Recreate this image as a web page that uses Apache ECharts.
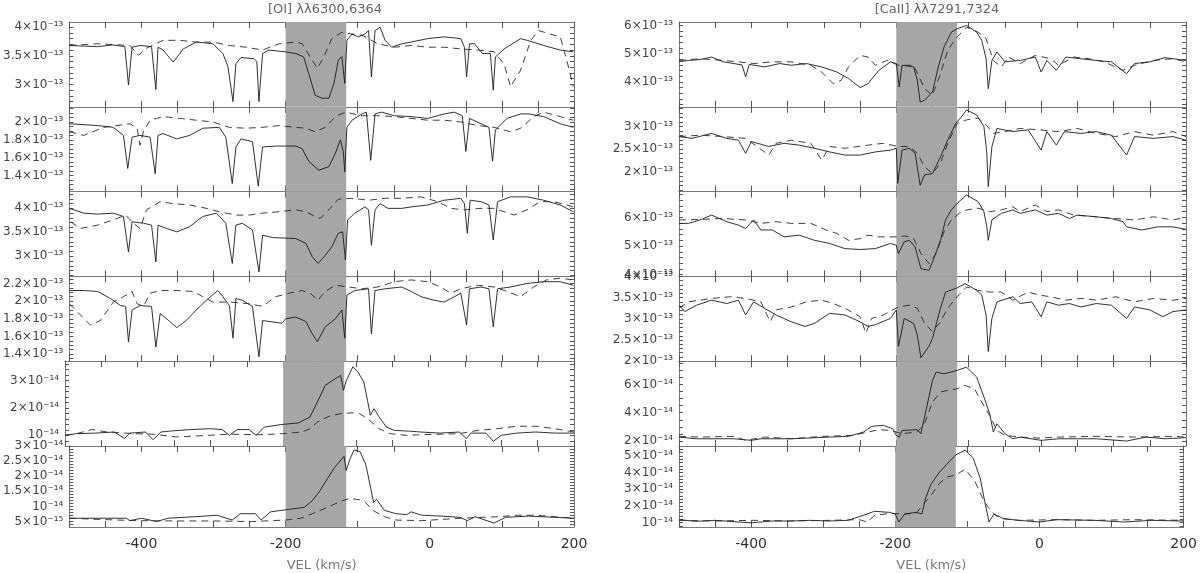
<!DOCTYPE html>
<html><head><meta charset="utf-8">
<script src="https://cdn.jsdelivr.net/npm/echarts@6/dist/echarts.min.js"></script>
<style>html,body{margin:0;padding:0;background:#fff}#c{width:1200px;height:573px}</style>
</head><body><div id="c"></div><script>
// ---------------- data ----------------
const velMin = -500, velMax = 200;
const shadeBand = [-200, -116];
const velTickLabels = [-400, -200, 0, 200];
const columnTitles = ['[OI] \u03bb\u03bb6300,6364', '[CaII] \u03bb\u03bb7291,7324'];
const axisName = 'VEL (km/s)';

// [OI] column (flux units: panels 1-4 in 1e-13, panels 5-6 in 1e-14)
const oi1Solid = [[-500,3.68],[-461,3.66],[-440,3.69],[-423,3.66],[-418,2.99],[-413,3.65],[-402,3.68],[-386,3.66],[-380,2.91],[-377,3.65],[-370,3.60],[-356,3.39],[-342,3.62],[-324,3.74],[-301,3.71],[-287,3.54],[-280,3.31],[-273,2.70],[-269,3.36],[-262,3.47],[-244,3.45],[-240,3.40],[-237,2.70],[-232,3.54],[-223,3.60],[-201,3.57],[-186,3.54],[-175,3.48],[-168,3.19],[-159,2.81],[-150,2.76],[-140,2.76],[-133,3.02],[-127,3.42],[-122,3.49],[-118,3.02],[-115,3.77],[-108,3.88],[-99,3.83],[-90,3.88],[-85,3.94],[-81,3.13],[-76,3.94],[-69,4.0],[-62,3.77],[-53,3.65],[-39,3.71],[-26,3.74],[-3,3.80],[20,3.83],[43,3.80],[48,3.65],[51,3.13],[55,3.71],[62,3.71],[73,3.54],[84,3.54],[88,2.90],[91,3.48],[103,3.62],[126,3.80],[135,3.77],[158,3.68],[181,3.60],[199,3.57]];
const oi1Dashed = [[-500,3.68],[-461,3.71],[-416,3.68],[-404,3.51],[-395,3.62],[-370,3.77],[-347,3.77],[-324,3.74],[-301,3.74],[-278,3.68],[-255,3.65],[-232,3.60],[-209,3.71],[-186,3.74],[-177,3.71],[-166,3.48],[-156,3.28],[-147,3.48],[-136,3.80],[-122,3.91],[-108,3.88],[-94,3.86],[-72,3.71],[-49,3.65],[-26,3.68],[-3,3.65],[20,3.65],[43,3.62],[66,3.60],[89,3.57],[103,3.36],[112,2.96],[126,3.25],[140,3.77],[151,3.94],[167,3.88],[181,3.83],[190,3.42],[199,2.96]];
const oi2Solid = [[-500,1.98],[-461,1.96],[-439,1.94],[-425,1.85],[-419,1.48],[-413,1.83],[-402,1.85],[-388,1.83],[-381,1.42],[-377,1.85],[-370,1.87],[-351,1.81],[-333,1.85],[-315,1.93],[-292,1.94],[-283,1.83],[-274,1.31],[-269,1.72],[-262,1.81],[-246,1.78],[-238,1.28],[-232,1.72],[-214,1.73],[-186,1.73],[-177,1.70],[-168,1.56],[-154,1.46],[-140,1.50],[-131,1.65],[-124,1.80],[-120,1.67],[-118,1.44],[-115,1.94],[-108,2.02],[-94,2.09],[-88,2.11],[-82,1.57],[-76,2.09],[-67,2.11],[-49,2.07],[-26,2.06],[-3,2.04],[20,2.09],[34,2.11],[45,2.07],[50,1.67],[55,2.04],[71,1.98],[82,1.94],[87,1.56],[91,1.91],[107,2.04],[126,2.09],[137,2.09],[158,2.06],[181,1.98],[199,1.94]];
const oi2Dashed = [[-500,1.89],[-480,1.85],[-452,1.94],[-434,1.96],[-416,1.98],[-406,1.93],[-402,1.74],[-397,1.90],[-388,2.02],[-370,2.06],[-347,2.04],[-324,2.02],[-301,2.0],[-278,1.94],[-255,1.93],[-232,1.94],[-209,1.96],[-186,1.94],[-172,1.93],[-159,1.89],[-145,1.94],[-131,2.06],[-117,2.11],[-94,2.07],[-72,2.07],[-49,2.06],[-26,2.04],[-3,2.02],[20,2.02],[43,2.0],[66,1.96],[89,1.94],[112,1.89],[126,1.93],[144,2.06],[158,2.11],[181,2.06],[199,2.02]];
const oi3Solid = [[-500,4.0],[-480,3.90],[-461,3.88],[-439,3.90],[-425,3.83],[-418,3.09],[-413,3.72],[-397,3.69],[-386,3.65],[-380,2.88],[-377,3.65],[-365,3.58],[-351,3.51],[-333,3.62],[-315,3.83],[-296,3.90],[-283,3.69],[-274,2.85],[-269,3.65],[-260,3.69],[-246,3.55],[-237,2.67],[-232,3.44],[-218,3.39],[-186,3.37],[-172,3.27],[-163,2.99],[-155,2.85],[-145,3.02],[-136,3.20],[-127,3.48],[-121,3.51],[-117,2.92],[-114,3.76],[-104,3.90],[-90,4.03],[-85,3.97],[-81,3.23],[-76,3.97],[-69,4.10],[-58,4.0],[-39,4.0],[-26,4.03],[-3,4.07],[20,4.17],[43,4.21],[48,4.10],[52,3.48],[56,4.17],[71,4.14],[82,4.07],[88,3.34],[94,4.14],[112,4.24],[135,4.24],[158,4.17],[181,4.07],[199,3.93]];
const oi3Dashed = [[-498,3.72],[-485,3.58],[-461,3.65],[-439,3.76],[-422,3.86],[-411,3.69],[-402,3.58],[-393,3.97],[-374,4.14],[-356,4.10],[-333,4.07],[-310,4.0],[-292,3.93],[-269,3.86],[-250,3.86],[-232,3.90],[-209,3.93],[-186,3.97],[-172,3.93],[-159,3.83],[-152,3.79],[-140,3.97],[-127,4.19],[-108,4.21],[-85,4.17],[-62,4.21],[-39,4.21],[-12,4.24],[11,4.14],[29,4.0],[48,3.97],[71,4.0],[89,4.0],[103,3.93],[117,3.86],[135,3.97],[153,4.14],[172,4.14],[190,4.07],[199,4.03]];
const oi4Solid = [[-500,2.12],[-480,2.12],[-461,2.11],[-443,2.03],[-429,1.95],[-422,1.94],[-418,1.54],[-413,1.90],[-402,1.95],[-386,1.94],[-380,1.48],[-374,1.86],[-365,1.80],[-351,1.70],[-338,1.78],[-324,1.90],[-310,2.01],[-294,2.12],[-287,2.05],[-278,1.95],[-273,1.58],[-269,2.03],[-260,2.01],[-246,1.94],[-237,1.37],[-232,1.78],[-223,1.77],[-205,1.75],[-200,1.80],[-186,1.82],[-172,1.77],[-163,1.63],[-156,1.54],[-145,1.71],[-131,1.80],[-122,1.90],[-118,1.58],[-115,2.07],[-104,2.12],[-85,2.14],[-81,1.63],[-76,2.12],[-62,2.14],[-39,2.16],[-26,2.11],[-12,2.05],[6,2.01],[20,1.99],[34,2.05],[43,2.09],[51,1.73],[55,2.14],[71,2.16],[82,2.14],[88,1.71],[94,2.14],[112,2.16],[135,2.2],[158,2.22],[181,2.22],[199,2.18]];
const oi4Dashed = [[-500,1.97],[-489,1.88],[-471,1.73],[-457,1.78],[-439,1.99],[-425,2.05],[-413,2.11],[-406,1.97],[-397,1.94],[-388,2.09],[-374,2.12],[-351,2.12],[-328,2.11],[-315,2.05],[-301,1.99],[-278,1.99],[-250,1.97],[-232,1.94],[-214,2.05],[-195,2.09],[-177,2.12],[-166,2.09],[-155,2.01],[-145,2.11],[-131,2.18],[-113,2.16],[-94,2.14],[-72,2.16],[-49,2.22],[-26,2.24],[-3,2.22],[15,2.16],[29,2.09],[43,2.14],[66,2.18],[89,2.16],[107,2.11],[126,2.05],[144,2.16],[162,2.24],[181,2.26],[199,2.24]];
const oi5Solid = [[-500,1.0],[-484,1.06],[-458,1.08],[-432,1.12],[-418,0.88],[-411,1.08],[-389,1.12],[-379,0.84],[-368,1.12],[-353,1.16],[-326,1.21],[-300,1.24],[-284,1.21],[-274,1.0],[-263,1.21],[-247,1.21],[-237,1.0],[-226,1.30],[-200,1.40],[-179,1.45],[-163,1.67],[-153,2.21],[-142,2.82],[-132,3.0],[-121,3.18],[-117,2.64],[-113,3.0],[-104,3.5],[-97,3.30],[-89,2.94],[-84,2.27],[-80,1.73],[-75,1.97],[-68,1.67],[-58,1.30],[-47,1.18],[-26,1.15],[-11,1.12],[16,1.08],[42,1.12],[52,0.88],[58,1.08],[79,1.08],[89,0.78],[100,1.0],[121,1.08],[147,1.12],[174,1.08],[200,1.08]];
const oi5Dashed = [[-500,1.0],[-484,1.06],[-463,1.21],[-442,1.12],[-405,1.06],[-379,1.04],[-347,0.94],[-316,0.98],[-274,1.04],[-232,1.02],[-200,1.06],[-174,1.12],[-163,1.24],[-153,1.48],[-137,1.69],[-121,1.79],[-105,1.82],[-95,1.79],[-84,1.61],[-68,1.24],[-53,1.06],[-32,1.0],[-11,1.02],[16,1.04],[42,1.06],[68,1.18],[95,1.24],[121,1.33],[147,1.33],[174,1.24],[200,1.12]];
const oi6Solid = [[-500,0.61],[-458,0.61],[-421,0.61],[-416,0.53],[-400,0.61],[-379,0.50],[-363,0.61],[-326,0.66],[-295,0.71],[-274,0.55],[-263,0.76],[-242,0.76],[-234,0.55],[-221,0.82],[-200,0.89],[-174,0.97],[-163,1.19],[-153,1.50],[-142,1.92],[-132,2.29],[-119,2.66],[-116,2.19],[-111,2.56],[-105,2.87],[-97,2.82],[-89,2.40],[-82,1.61],[-78,1.13],[-74,1.24],[-63,0.87],[-47,0.76],[-32,0.73],[-26,0.82],[-11,0.71],[16,0.68],[42,0.64],[52,0.53],[63,0.66],[89,0.45],[105,0.64],[137,0.68],[174,0.64],[200,0.61]];
const oi6Dashed = [[-500,0.61],[-458,0.57],[-405,0.53],[-353,0.52],[-300,0.52],[-247,0.50],[-200,0.55],[-179,0.61],[-163,0.76],[-147,0.92],[-132,1.08],[-121,1.19],[-111,1.27],[-97,1.22],[-89,1.13],[-79,0.87],[-63,0.66],[-47,0.55],[-11,0.53],[42,0.61],[95,0.66],[121,0.71],[147,0.71],[174,0.66],[200,0.61]];

// [CaII] column
const ca1Solid = [[-500,4.71],[-487,4.76],[-471,4.79],[-455,4.88],[-439,4.71],[-424,4.65],[-413,4.60],[-408,4.18],[-403,4.62],[-382,4.53],[-361,4.65],[-345,4.59],[-324,4.65],[-303,4.53],[-282,4.35],[-266,4.12],[-250,3.80],[-239,3.94],[-224,4.41],[-208,4.71],[-200,4.65],[-196,3.82],[-192,4.59],[-176,4.53],[-171,4.06],[-167,3.29],[-161,3.35],[-150,3.65],[-142,4.53],[-134,5.24],[-124,5.76],[-116,5.88],[-103,6.0],[-89,5.76],[-82,5.47],[-76,4.82],[-73,3.76],[-68,4.76],[-61,5.06],[-50,4.71],[-29,4.76],[-8,4.88],[0,4.35],[8,4.76],[21,4.41],[34,4.88],[55,4.82],[76,4.76],[97,4.71],[118,4.29],[129,4.65],[150,4.71],[171,4.86],[200,4.76]];
const ca1Dashed = [[-500,4.76],[-471,4.82],[-439,4.76],[-418,4.71],[-397,4.65],[-371,4.71],[-345,4.71],[-318,4.59],[-303,4.35],[-287,3.94],[-276,4.06],[-266,4.53],[-250,4.94],[-239,4.88],[-229,4.59],[-213,4.76],[-197,4.59],[-176,4.59],[-161,3.76],[-150,3.53],[-139,4.29],[-129,5.12],[-118,5.53],[-103,5.94],[-87,5.76],[-76,5.53],[-66,4.76],[-55,4.53],[-45,4.88],[-29,4.65],[-8,4.94],[13,4.82],[24,4.59],[45,4.88],[66,4.82],[87,4.71],[113,4.41],[129,4.59],[155,4.76],[182,4.82],[200,4.71]];
const ca2Solid = [[-500,2.78],[-482,2.74],[-455,2.85],[-434,2.74],[-418,2.70],[-408,2.41],[-400,2.67],[-376,2.56],[-355,2.63],[-334,2.59],[-313,2.52],[-292,2.44],[-271,2.37],[-250,2.37],[-229,2.44],[-208,2.48],[-200,2.52],[-198,1.74],[-192,2.48],[-182,2.52],[-174,2.41],[-167,1.70],[-161,1.93],[-150,1.96],[-139,2.33],[-129,2.70],[-118,3.07],[-108,3.26],[-103,3.37],[-89,3.26],[-79,3.0],[-75,2.41],[-73,1.67],[-68,2.56],[-61,2.96],[-39,2.89],[-18,2.93],[0,2.48],[8,2.89],[21,2.59],[32,2.89],[55,2.85],[76,2.89],[97,2.81],[118,2.37],[129,2.78],[155,2.74],[182,2.78],[200,2.70]];
const ca2Dashed = [[-500,2.78],[-471,2.81],[-439,2.78],[-408,2.74],[-376,2.37],[-366,2.63],[-345,2.70],[-318,2.63],[-303,2.26],[-292,2.56],[-271,2.52],[-239,2.59],[-218,2.63],[-197,2.56],[-182,2.56],[-171,2.41],[-161,2.11],[-150,1.96],[-139,2.19],[-129,2.63],[-116,3.07],[-103,3.15],[-87,3.19],[-76,3.04],[-66,2.85],[-50,2.89],[-29,2.96],[-3,2.93],[24,2.89],[50,2.96],[76,2.85],[103,2.78],[129,2.89],[155,2.81],[182,2.89],[200,2.78]];
const ca3Solid = [[-500,5.79],[-487,5.79],[-471,5.91],[-455,6.08],[-434,5.85],[-418,5.73],[-408,5.61],[-397,5.91],[-387,5.56],[-371,5.56],[-355,5.32],[-334,5.38],[-313,5.20],[-292,5.09],[-271,4.91],[-250,4.88],[-229,4.91],[-208,5.09],[-200,5.03],[-197,4.74],[-189,5.15],[-182,5.20],[-174,4.97],[-166,4.21],[-155,4.15],[-150,4.44],[-139,5.20],[-132,5.91],[-124,6.26],[-116,6.49],[-103,6.78],[-87,6.55],[-79,6.20],[-75,5.67],[-73,5.20],[-68,5.91],[-55,6.14],[-39,6.26],[-29,6.14],[-8,6.26],[8,6.08],[24,6.14],[39,5.96],[50,6.08],[76,6.02],[97,5.96],[113,5.85],[118,5.67],[139,5.56],[161,5.67],[182,5.67],[200,5.58]];
const ca3Dashed = [[-500,5.91],[-471,5.93],[-439,5.96],[-408,5.91],[-387,5.79],[-366,5.85],[-345,5.79],[-318,5.79],[-297,5.56],[-282,5.44],[-266,5.20],[-250,5.26],[-239,5.38],[-224,5.32],[-203,5.32],[-187,5.35],[-176,5.26],[-166,4.74],[-155,4.39],[-145,4.74],[-134,5.50],[-124,5.91],[-113,6.14],[-103,6.26],[-87,6.32],[-71,6.20],[-55,6.26],[-39,6.37],[-29,6.20],[-8,6.43],[8,6.20],[24,6.26],[45,6.08],[76,6.02],[103,5.96],[129,5.91],[155,6.02],[182,5.91],[200,6.0]];
const ca4Solid = [[-500,3.32],[-492,3.17],[-476,3.32],[-455,3.44],[-434,3.36],[-418,3.44],[-408,3.09],[-397,3.40],[-382,3.25],[-366,3.09],[-345,2.93],[-326,2.82],[-313,2.89],[-292,3.13],[-271,3.09],[-250,2.93],[-239,2.82],[-229,2.86],[-208,3.01],[-200,3.21],[-197,2.35],[-189,3.01],[-176,2.89],[-171,2.62],[-166,2.08],[-155,2.35],[-150,2.54],[-139,3.25],[-132,3.63],[-116,3.73],[-105,3.83],[-89,3.67],[-82,3.56],[-76,3.09],[-73,2.23],[-68,3.01],[-61,3.40],[-39,3.52],[-29,3.36],[-13,3.40],[0,3.05],[8,3.40],[24,3.32],[39,3.36],[55,3.28],[76,3.36],[97,3.32],[118,3.01],[129,3.28],[150,3.21],[168,3.05],[182,3.17],[200,3.21]];
const ca4Dashed = [[-500,3.25],[-487,3.40],[-455,3.48],[-429,3.52],[-408,3.48],[-387,3.40],[-374,2.93],[-366,3.21],[-345,3.28],[-324,3.40],[-303,3.44],[-287,3.36],[-271,3.25],[-250,3.05],[-242,2.66],[-234,3.01],[-218,3.09],[-197,3.28],[-182,3.32],[-171,3.25],[-161,2.89],[-150,2.70],[-139,2.93],[-129,3.25],[-116,3.52],[-103,3.75],[-87,3.67],[-71,3.63],[-55,3.63],[-39,3.44],[-18,3.63],[-3,3.56],[13,3.52],[34,3.44],[55,3.48],[76,3.44],[103,3.52],[129,3.40],[155,3.48],[182,3.44],[200,3.48]];
const ca5Solid = [[-500,2.28],[-476,2.16],[-450,2.16],[-424,2.16],[-400,2.05],[-387,2.16],[-345,2.16],[-292,2.28],[-266,2.33],[-245,2.64],[-234,3.04],[-218,3.11],[-205,2.87],[-200,2.40],[-196,2.28],[-192,2.75],[-171,2.80],[-166,2.52],[-158,4.40],[-150,6.28],[-145,6.87],[-134,6.75],[-116,6.99],[-103,7.22],[-89,6.52],[-79,5.11],[-71,3.93],[-66,2.64],[-61,3.22],[-50,2.52],[-39,2.16],[-29,2.28],[0,2.05],[24,2.16],[50,2.16],[76,2.16],[118,2.0],[145,2.28],[171,2.16],[200,2.24]];
const ca5Dashed = [[-500,2.33],[-471,2.28],[-424,2.33],[-408,2.05],[-382,2.28],[-345,2.16],[-303,2.33],[-260,2.40],[-239,2.64],[-224,2.80],[-208,2.75],[-192,2.52],[-171,2.64],[-161,3.22],[-150,4.75],[-139,5.46],[-129,5.58],[-116,5.69],[-105,5.93],[-92,5.69],[-82,4.75],[-71,3.81],[-61,2.75],[-50,2.40],[-29,2.28],[-3,2.21],[24,2.28],[76,2.33],[129,2.28],[182,2.33],[200,2.28]];
const ca6Solid = [[-500,1.17],[-476,1.07],[-450,1.13],[-400,0.98],[-371,1.09],[-345,1.09],[-318,1.13],[-292,1.09],[-266,1.13],[-245,1.42],[-229,1.67],[-208,1.61],[-200,1.51],[-195,1.03],[-187,1.51],[-171,1.61],[-163,1.51],[-158,2.47],[-150,3.33],[-139,4.0],[-129,4.48],[-116,5.06],[-103,5.34],[-92,4.87],[-82,3.62],[-76,2.28],[-70,1.03],[-63,1.51],[-50,1.23],[-29,1.13],[0,1.03],[24,1.17],[76,1.13],[118,1.03],[155,1.13],[200,1.09]];
const ca6Dashed = [[-500,1.13],[-450,1.09],[-397,1.13],[-345,1.09],[-292,1.13],[-250,1.17],[-239,1.03],[-229,1.42],[-208,1.55],[-187,1.51],[-171,1.55],[-161,2.09],[-150,2.66],[-139,3.33],[-129,3.72],[-116,3.85],[-103,4.20],[-89,3.43],[-79,2.47],[-71,1.90],[-61,1.42],[-50,1.23],[-29,1.13],[24,1.17],[76,1.13],[129,1.17],[200,1.13]];

// y ranges, tick values and tick labels
const oiRanges = [[2.61,4.09],[1.22,2.17],[2.58,4.35],[1.32,2.28],[0.61,3.70],[0.32,3.0]];
const oiTicks = [[3,3.5,4],[1.4,1.6,1.8,2],[3,3.5,4],[1.4,1.6,1.8,2,2.2],[1,2,3],[0.5,1,1.5,2,2.5,3]];
const oiLabels = [
  ['3\u00d710\u207b\u00b9\u00b3','3.5\u00d710\u207b\u00b9\u00b3','4\u00d710\u207b\u00b9\u00b3'],
  ['1.4\u00d710\u207b\u00b9\u00b3','1.6\u00d710\u207b\u00b9\u00b3','1.8\u00d710\u207b\u00b9\u00b3','2\u00d710\u207b\u00b9\u00b3'],
  ['3\u00d710\u207b\u00b9\u00b3','3.5\u00d710\u207b\u00b9\u00b3','4\u00d710\u207b\u00b9\u00b3'],
  ['1.4\u00d710\u207b\u00b9\u00b3','1.6\u00d710\u207b\u00b9\u00b3','1.8\u00d710\u207b\u00b9\u00b3','2\u00d710\u207b\u00b9\u00b3','2.2\u00d710\u207b\u00b9\u00b3'],
  ['10\u207b\u00b9\u2074','2\u00d710\u207b\u00b9\u2074','3\u00d710\u207b\u00b9\u2074'],
  ['5\u00d710\u207b\u00b9\u2075','10\u207b\u00b9\u2074','1.5\u00d710\u207b\u00b9\u2074','2\u00d710\u207b\u00b9\u2074','2.5\u00d710\u207b\u00b9\u2074','3\u00d710\u207b\u00b9\u2074']
];
const caRanges = [[3.12,6.12],[1.56,3.44],[3.94,6.9],[2.0,4.0],[1.65,7.64],[0.73,5.59]];
const caTicks = [[4,5,6],[2,2.5,3],[4,5,6],[2,2.5,3,3.5,4],[2,4,6],[1,2,3,4,5]];
const caLabels = [
  ['4\u00d710\u207b\u00b9\u00b3','5\u00d710\u207b\u00b9\u00b3','6\u00d710\u207b\u00b9\u00b3'],
  ['2\u00d710\u207b\u00b9\u00b3','2.5\u00d710\u207b\u00b9\u00b3','3\u00d710\u207b\u00b9\u00b3'],
  ['4\u00d710\u207b\u00b9\u00b3','5\u00d710\u207b\u00b9\u00b3','6\u00d710\u207b\u00b9\u00b3'],
  ['2\u00d710\u207b\u00b9\u00b3','2.5\u00d710\u207b\u00b9\u00b3','3\u00d710\u207b\u00b9\u00b3','3.5\u00d710\u207b\u00b9\u00b3','4\u00d710\u207b\u00b9\u00b3'],
  ['2\u00d710\u207b\u00b9\u2074','4\u00d710\u207b\u00b9\u2074','6\u00d710\u207b\u00b9\u2074'],
  ['10\u207b\u00b9\u2074','2\u00d710\u207b\u00b9\u2074','3\u00d710\u207b\u00b9\u2074','4\u00d710\u207b\u00b9\u2074','5\u00d710\u207b\u00b9\u2074']
];

// ---------------- layout / style ----------------
const oiSolids = [oi1Solid, oi2Solid, oi3Solid, oi4Solid, oi5Solid, oi6Solid];
const oiDasheds = [oi1Dashed, oi2Dashed, oi3Dashed, oi4Dashed, oi5Dashed, oi6Dashed];
const caSolids = [ca1Solid, ca2Solid, ca3Solid, ca4Solid, ca5Solid, ca6Solid];
const caDasheds = [ca1Dashed, ca2Dashed, ca3Dashed, ca4Dashed, ca5Dashed, ca6Dashed];
const minorSteps = [[0.1,0.05,0.1,0.05,0.2,0.1],[0.2,0.1,0.2,0.1,0.5,0.2]];
const velTickStep = 50;

const colLeft = [65, 679], colWidth = [509, 507];
const panelTop = 22, panelH = 84.8;
const frameColor = '#7a7a7a';
const fontFam = '"DejaVu Sans", "Liberation Sans", sans-serif';

function stepVals(r, step) {
  const out = [];
  const k0 = Math.ceil(r[0] / step - 1e-9), k1 = Math.floor(r[1] / step + 1e-9);
  for (let k = k0; k <= k1; k++) out.push(+(k * step).toFixed(4));
  return out;
}
function tickStyle() { return { color: '#555', width: 1 }; }
const velTicks = stepVals([velMin, velMax], velTickStep);

const grids = [], xAxes = [], yAxes = [], series = [];
[ [oiSolids, oiDasheds, oiRanges, oiTicks, oiLabels], [caSolids, caDasheds, caRanges, caTicks, caLabels] ].forEach((col, c) => {
  const [solids, dasheds, ranges, ticks, labels] = col;
  for (let r = 0; r < 6; r++) {
    const g = grids.length;
    grids.push({ left: colLeft[c], width: colWidth[c], top: panelTop + r * panelH, height: panelH });
    const bottom = r === 5;
    const xi = xAxes.length;
    ['bottom', 'top'].forEach(pos => xAxes.push({
      gridIndex: g, type: 'value', min: velMin, max: velMax, splitLine: { show: false },
      position: pos, axisLine: { show: true, onZero: false, lineStyle: { color: frameColor, width: 1 } },
      axisTick: { show: true, inside: true, length: 6, customValues: velTicks, lineStyle: tickStyle() },
      axisLabel: (bottom && pos === 'bottom') ? { show: true, customValues: velTickLabels, color: '#333', fontSize: 14, margin: 10, fontFamily: fontFam, formatter: v => String(v) } : { show: false },
      name: (bottom && pos === 'bottom') ? axisName : '', nameLocation: 'middle', nameGap: 32,
      nameTextStyle: { color: '#777', fontSize: 13, fontFamily: fontFam }
    }));

    const rg = ranges[r], tk = ticks[r], lb = labels[r];
    const allTicks = stepVals(rg, minorSteps[c][r]);
    const yi = yAxes.length;
    ['left', 'right'].forEach(pos => yAxes.push({
      gridIndex: g, type: 'value', min: rg[0], max: rg[1], splitLine: { show: false },
      position: pos, axisLine: { show: true, onZero: false, lineStyle: { color: frameColor, width: 1 } },
      axisTick: { show: true, inside: true, length: 4, customValues: allTicks, lineStyle: tickStyle() },
      axisLabel: pos === 'left' ? { show: true, customValues: tk, color: '#444', fontSize: 12, margin: 6, fontFamily: fontFam,
        formatter: v => { const i = tk.findIndex(t => Math.abs(t - v) < 1e-6); return i >= 0 ? lb[i] : ''; } } : { show: false }
    }));
    series.push({
      type: 'line', xAxisIndex: xi, yAxisIndex: yi, data: solids[r], showSymbol: false, silent: true,
      lineStyle: { color: '#1c1c1c', width: 0.9 }, z: 3,
      markArea: { silent: true, itemStyle: { color: '#a6a6a6' }, data: [[{ xAxis: shadeBand[0] }, { xAxis: shadeBand[1] }]] }
    });
    series.push({
      type: 'line', xAxisIndex: xi, yAxisIndex: yi, data: dasheds[r], showSymbol: false, silent: true,
      lineStyle: { color: '#2a2a2a', width: 0.9, type: [7, 5] }, z: 4
    });
  }
});

const chart = echarts.init(document.getElementById('c'), null, { renderer: 'canvas' });
chart.setOption({
  animation: false,
  backgroundColor: '#fff',
  title: [
    { text: columnTitles[0], left: 320, top: -2, textAlign: 'center', textStyle: { color: '#666', fontSize: 13, fontWeight: 'normal', fontFamily: fontFam } },
    { text: columnTitles[1], left: 932, top: -2, textAlign: 'center', textStyle: { color: '#666', fontSize: 13, fontWeight: 'normal', fontFamily: fontFam } }
  ],
  grid: grids, xAxis: xAxes, yAxis: yAxes, series: series
});
</script></body></html>
